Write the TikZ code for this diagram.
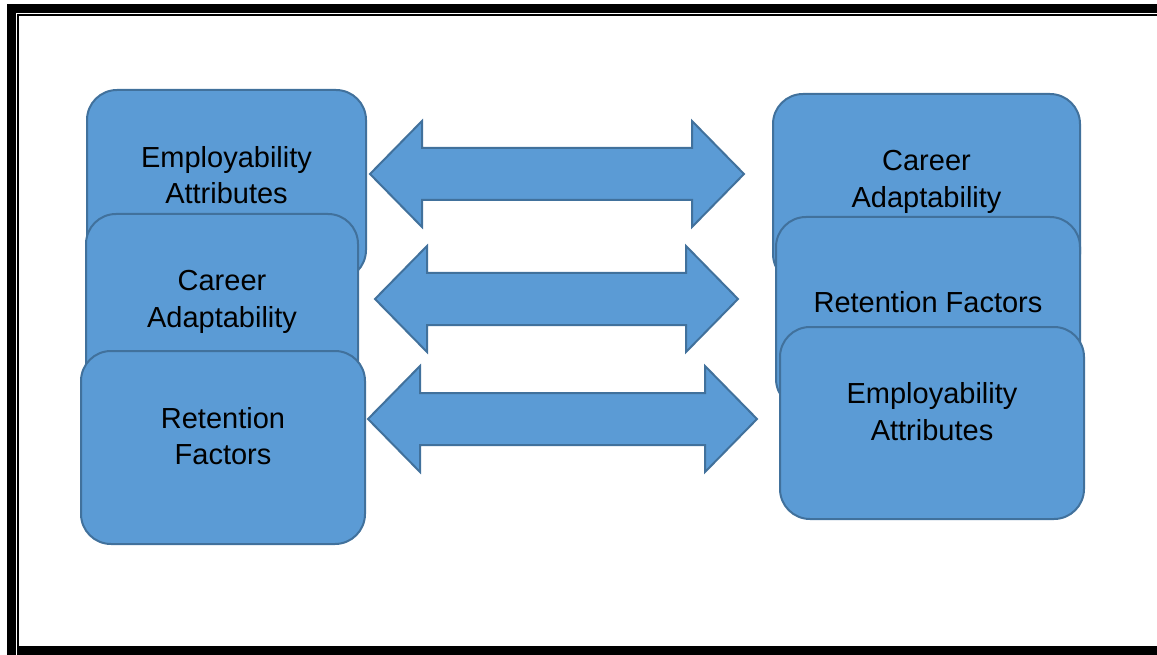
\documentclass[tikz,border=0pt]{standalone}
\usepackage{fontspec}
\setmainfont{Liberation Sans}
\usepackage{tikz}
\definecolor{boxfill}{RGB}{91,155,213}
\definecolor{boxline}{RGB}{65,113,156}
\tikzset{
  box/.style={draw=boxline, fill=boxfill, line width=2pt, rounded corners=30pt},
  boxtext/.style={align=center, inner sep=0pt, font=\fontsize{29}{36.5}\selectfont},
  blockarrow/.style={draw=boxline, fill=boxfill, line width=2pt}
}
% double block arrow: left tip x, right tip x, middle y
\def\dblarrow(#1:#2:#3){\draw[blockarrow] (#1,#3) -- (#1+52,#3-53) -- (#1+52,#3-26) -- (#2-52,#3-26) -- (#2-52,#3-53) -- (#2,#3) -- (#2-52,#3+53) -- (#2-52,#3+26) -- (#1+52,#3+26) -- (#1+52,#3+53) -- cycle;}

\begin{document}
\begin{tikzpicture}[x=1pt,y=-1pt]
				\useasboundingbox (0,0) rectangle (1157,655);
				
				% frame
				\fill[black] (7,4) rectangle (1157,13);
				\fill[black] (7,4) rectangle (16,655);
				\fill[black] (17,14) rectangle (1157,16);
				\fill[black] (17,14) rectangle (19,646);
				\fill[black] (17,646) rectangle (1157,655);
				
				% left column
				\node[box, minimum width=279pt, minimum height=190pt] (leftEmp) at (226.5,185) {};
				\node[boxtext] (leftEmpText) at (226.5,175) {Employability\\Attributes};
				\node[box, minimum width=272pt, minimum height=190pt] (leftCar) at (222,309) {};
				\node[boxtext] (leftCarText) at (222,302) {Career\\Adaptability};
				\node[box, minimum width=284pt, minimum height=193pt] (leftRet) at (223,447.5) {};
				\node[boxtext] (leftRetText) at (223,436) {Retention\\Factors};
				
				% right column
				\node[box, minimum width=307pt, minimum height=190pt] (rightCar) at (926.5,189) {};
				\node[boxtext] (rightCarText) at (926.5,182) {Career\\Adaptability};
				\node[box, minimum width=304pt, minimum height=192pt] (rightRet) at (928,313) {};
				\node[boxtext] (rightRetText) at (928,302) {Retention Factors};
				\node[box, minimum width=304pt, minimum height=192pt] (rightEmp) at (932,423) {};
				\node[boxtext] (rightEmpText) at (932,411.5) {Employability\\Attributes};
				
				% arrows
				\dblarrow(370:744:174)
				\dblarrow(375:738:299)
				\dblarrow(368:757:419)
\end{tikzpicture}
\end{document}
